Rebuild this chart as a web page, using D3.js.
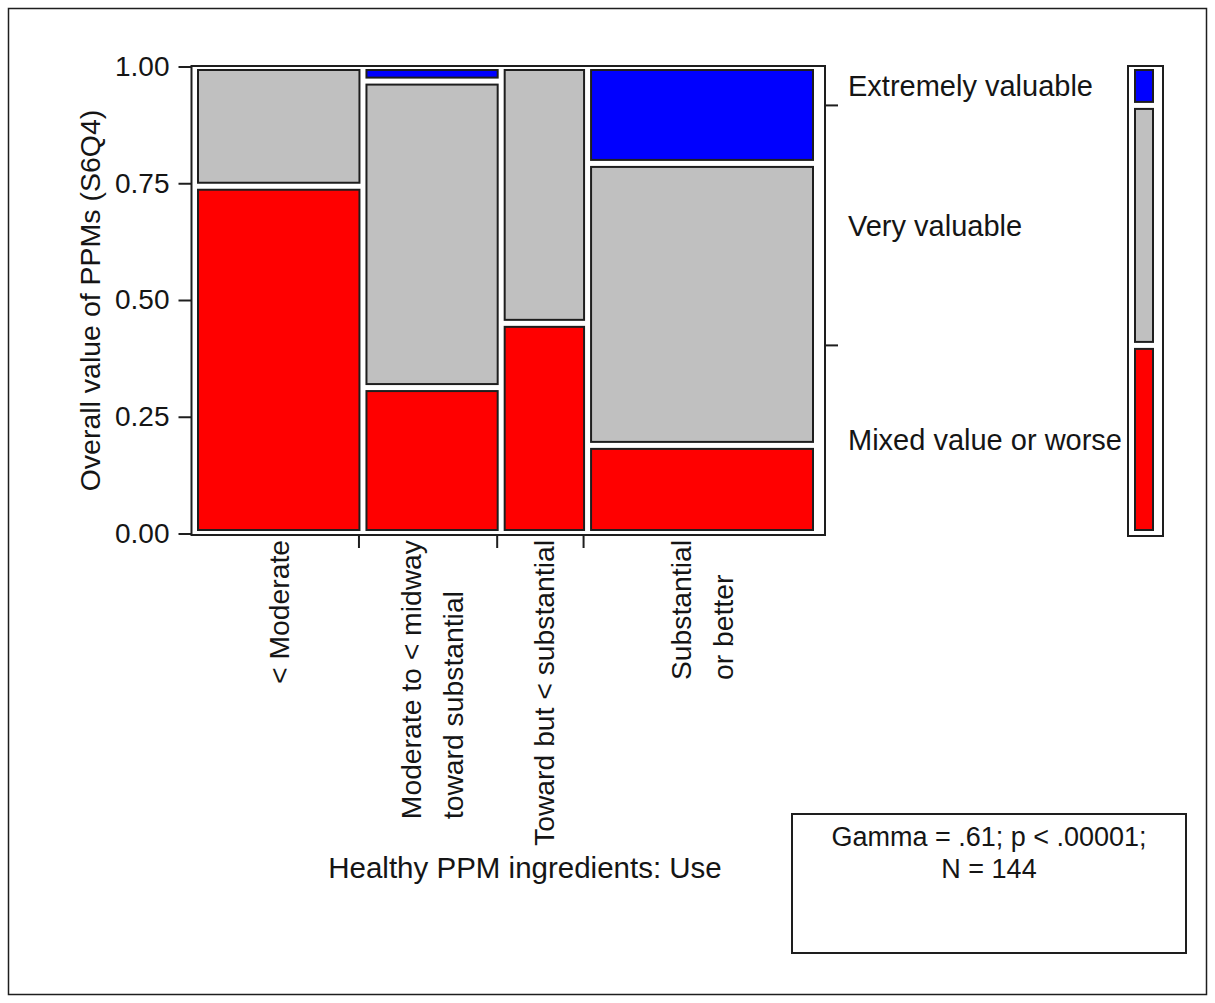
<!DOCTYPE html>
<html>
<head>
<meta charset="utf-8">
<script src="https://cdn.jsdelivr.net/npm/d3@7"></script>
<style>
  body { margin: 0; background: #fff; }
  svg { display: block; }
  text { font-family: "Liberation Sans", Arial, sans-serif; fill: #151515; }
</style>
</head>
<body>
<svg id="chart" width="1215" height="1003"></svg>
<script>
// Column categories (each entry holds the label lines)
const categories = [
  ["< Moderate"],
  ["Moderate to < midway", "toward substantial"],
  ["Toward but < substantial"],
  ["Substantial", "or better"]
];
// Response levels, bottom to top
const levels = ["Mixed value or worse", "Very valuable", "Extremely valuable"];
// Counts per column for each response level
const mixedCounts = [29, 10, 9, 10];
const veryCounts = [10, 21, 11, 32];
const extremelyCounts = [0, 1, 0, 11];
const yTickValues = [0, 0.25, 0.5, 0.75, 1];
const statsLines = ["Gamma = .61; p < .00001;", "N = 144"];
const xTitle = "Healthy PPM ingredients: Use";
const yTitle = "Overall value of PPMs (S6Q4)";

const fills = ["#ff0000", "#c0c0c0", "#0000ff"];
const edge = "#1e1e1e";
const gap = 7;

const svg = d3.select("#chart");
svg.append("rect").attr("x", 0).attr("y", 0).attr("width", 1215).attr("height", 1003).attr("fill", "#fff");
// outer border
svg.append("rect").attr("x", 8.5).attr("y", 8.5).attr("width", 1198).attr("height", 986)
  .attr("fill", "none").attr("stroke", edge).attr("stroke-width", 1.5);

const countsByLevel = [mixedCounts, veryCounts, extremelyCounts];
const colTotals = categories.map((_, i) => d3.sum(countsByLevel, c => c[i]));
const grandTotal = d3.sum(colTotals);
const colStarts = [0, ...d3.cumsum(colTotals)];

const x = d3.scaleLinear().domain([0, grandTotal]).range([194.5, 816.5]);
const y = d3.scaleLinear().domain([0, 1]).range([533.5, 66.5]);

// plot frame
const frame = { left: 191.5, right: 825, top: 66, bottom: 535 };
svg.append("rect").attr("x", frame.left).attr("y", frame.top)
  .attr("width", frame.right - frame.left).attr("height", frame.bottom - frame.top)
  .attr("fill", "none").attr("stroke", edge).attr("stroke-width", 2);

// mosaic tiles
const tiles = [];
categories.forEach((cat, i) => {
  let acc = 0;
  countsByLevel.forEach((counts, k) => {
    const n = counts[i];
    const p0 = acc / colTotals[i];
    acc += n;
    const p1 = acc / colTotals[i];
    if (n > 0) tiles.push({ i, k, p0, p1 });
  });
});
svg.append("g").selectAll("rect").data(tiles).join("rect")
  .attr("x", d => x(colStarts[d.i]) + gap / 2)
  .attr("width", d => x(colStarts[d.i + 1]) - x(colStarts[d.i]) - gap)
  .attr("y", d => y(d.p1) + gap / 2)
  .attr("height", d => y(d.p0) - y(d.p1) - gap)
  .attr("fill", d => fills[d.k])
  .attr("stroke", edge).attr("stroke-width", 2);

// left axis
const yAxis = d3.axisLeft(y).tickValues(yTickValues).tickFormat(d3.format(".2f"))
  .tickSize(13).tickPadding(9);
const gy = svg.append("g").attr("transform", `translate(${frame.left},0)`).call(yAxis);
gy.select(".domain").remove();
gy.selectAll(".tick line").attr("stroke", edge).attr("stroke-width", 2);
gy.selectAll(".tick text").attr("font-size", 28).attr("fill", "#151515")
  .style("font-family", '"Liberation Sans", Arial, sans-serif');

svg.append("text")
  .attr("transform", `translate(100,${(frame.top + frame.bottom) / 2}) rotate(-90)`)
  .attr("text-anchor", "middle").attr("font-size", 28.5)
  .text(yTitle);

// bottom ticks at column boundaries
svg.append("g").selectAll("line").data(colStarts.slice(1, -1)).join("line")
  .attr("x1", d => x(d) - 4).attr("x2", d => x(d) - 4)
  .attr("y1", frame.bottom).attr("y2", frame.bottom + 13)
  .attr("stroke", edge).attr("stroke-width", 2);

// rotated column labels
const lineStep = 42;
categories.forEach((lines, i) => {
  const cx = (x(colStarts[i]) + x(colStarts[i + 1])) / 2;
  const g = svg.append("g").attr("transform", `translate(${cx},540) rotate(-90)`);
  const texts = g.selectAll("text").data(lines).join("text")
    .attr("font-size", 28.3)
    .attr("y", (d, j) => (j - (lines.length - 1) / 2) * lineStep)
    .attr("dy", "0.35em")
    .text(d => d);
  const maxLen = d3.max(texts.nodes(), n => n.getComputedTextLength());
  texts.attr("x", -maxLen).attr("text-anchor", "start");
});

svg.append("text").attr("x", 525).attr("y", 878).attr("text-anchor", "middle")
  .attr("font-size", 29.5).text(xTitle);

// right axis: marginal distribution of the response
const levelTotals = countsByLevel.map(c => d3.sum(c));
const margStarts = [0, ...d3.cumsum(levelTotals)].map(v => v / grandTotal);
svg.append("g").selectAll("line").data(margStarts.slice(1, -1)).join("line")
  .attr("x1", frame.right).attr("x2", frame.right + 13)
  .attr("y1", d => y(d)).attr("y2", d => y(d))
  .attr("stroke", edge).attr("stroke-width", 2);
svg.append("g").selectAll("text").data(levels).join("text")
  .attr("x", 848)
  .attr("y", (d, k) => y((margStarts[k] + margStarts[k + 1]) / 2))
  .attr("dy", "0.35em").attr("font-size", 29)
  .text(d => d);

// marginal bar
svg.append("rect").attr("x", 1128).attr("y", frame.top).attr("width", 35).attr("height", frame.bottom - frame.top + 1)
  .attr("fill", "none").attr("stroke", edge).attr("stroke-width", 2);
svg.append("g").selectAll("rect").data(levels.map((d, k) => ({ k, p0: margStarts[k], p1: margStarts[k + 1] })))
  .join("rect")
  .attr("x", 1135).attr("width", 18)
  .attr("y", d => y(d.p1) + gap / 2)
  .attr("height", d => y(d.p0) - y(d.p1) - gap)
  .attr("fill", d => fills[d.k])
  .attr("stroke", edge).attr("stroke-width", 2);

// statistics box
svg.append("rect").attr("x", 792).attr("y", 814).attr("width", 394).attr("height", 139)
  .attr("fill", "#fff").attr("stroke", edge).attr("stroke-width", 2);
svg.append("g").selectAll("text").data(statsLines).join("text")
  .attr("x", 989).attr("y", (d, j) => 846 + j * 32)
  .attr("text-anchor", "middle").attr("font-size", 27)
  .text(d => d);
</script>
</body>
</html>
